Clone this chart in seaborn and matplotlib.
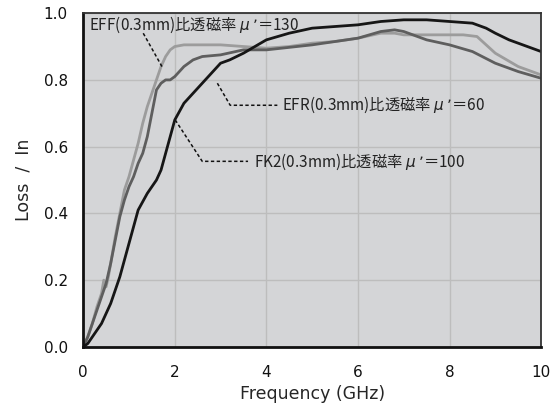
import pandas as pd
import matplotlib
matplotlib.use("Agg")
import matplotlib.pyplot as plt
import seaborn as sns

# EFF (0.3mm), mu' = 130
eff_x = [0, 0.1, 0.2, 0.3, 0.4, 0.45, 0.5, 0.55, 0.6, 0.7, 0.8, 0.9, 1.0, 1.1, 1.2, 1.3,
         1.4, 1.5, 1.6, 1.7, 1.8, 1.9, 2.0, 2.2, 2.5, 3.0, 3.5, 4.0, 4.5, 5.0, 5.5, 6.0,
         6.5, 6.8, 7.0, 7.5, 8.0, 8.3, 8.6, 9.0, 9.5, 10.0]
eff_y = [0, 0.03, 0.07, 0.12, 0.16, 0.20, 0.18, 0.21, 0.25, 0.33, 0.40, 0.47, 0.51, 0.56, 0.61, 0.67,
         0.72, 0.76, 0.80, 0.84, 0.87, 0.89, 0.90, 0.905, 0.905, 0.905, 0.90, 0.895, 0.90, 0.91, 0.915, 0.925,
         0.94, 0.94, 0.935, 0.935, 0.935, 0.935, 0.93, 0.88, 0.84, 0.815]

# EFR (0.3mm), mu' = 60
efr_x = [0, 0.1, 0.2, 0.3, 0.4, 0.5, 0.6, 0.7, 0.8, 0.9, 1.0, 1.1, 1.2, 1.3, 1.4, 1.5,
         1.6, 1.7, 1.8, 1.9, 2.0, 2.2, 2.4, 2.6, 3.0, 3.5, 4.0, 5.0, 6.0, 6.5, 6.8, 7.0,
         7.5, 8.0, 8.5, 9.0, 9.5, 10.0]
efr_y = [0, 0.03, 0.07, 0.11, 0.15, 0.19, 0.25, 0.32, 0.39, 0.44, 0.48, 0.51, 0.55, 0.58, 0.63, 0.70,
         0.77, 0.79, 0.80, 0.80, 0.81, 0.84, 0.86, 0.87, 0.875, 0.89, 0.89, 0.905, 0.925, 0.945, 0.95, 0.945,
         0.92, 0.905, 0.885, 0.85, 0.825, 0.805]

# FK2 (0.3mm), mu' = 100
fk2_x = [0, 0.1, 0.2, 0.4, 0.6, 0.8, 1.0, 1.2, 1.4, 1.5, 1.6, 1.7, 1.8, 1.9, 2.0, 2.2,
         2.4, 2.6, 2.8, 3.0, 3.2, 3.5, 4.0, 4.5, 5.0, 5.5, 6.0, 6.5, 7.0, 7.5, 8.0, 8.5,
         8.8, 9.0, 9.3, 9.6, 10.0]
fk2_y = [0, 0.01, 0.03, 0.07, 0.13, 0.21, 0.31, 0.41, 0.46, 0.48, 0.50, 0.53, 0.58, 0.63, 0.68, 0.73,
         0.76, 0.79, 0.82, 0.85, 0.86, 0.88, 0.92, 0.94, 0.955, 0.96, 0.965, 0.975, 0.98, 0.98, 0.975, 0.97,
         0.955, 0.94, 0.92, 0.905, 0.885]

labels = ["EFF(0.3mm)比透磁率 $\\mu$ ’＝130",
          "EFR(0.3mm)比透磁率 $\\mu$ ’＝60",
          "FK2(0.3mm)比透磁率 $\\mu$ ’＝100"]
# leader lines: curve point -> elbow -> end
leaders = [
    [(1.72, 0.84), (1.29, 0.945)],
    [(2.93, 0.79), (3.21, 0.724), (4.24, 0.724)],
    [(2.01, 0.68), (2.60, 0.556), (3.60, 0.556)],
]
text_pos = [(0.12, 0.965), (4.34, 0.724), (3.73, 0.556)]

sns.set_style("ticks")
plt.rcParams['font.family'] = ['DejaVu Sans', 'Noto Sans CJK JP']

fig, ax = plt.subplots(figsize=(5.51, 4.11), dpi=100)
fig.subplots_adjust(left=0.151, right=0.982, bottom=0.156, top=0.968)
ax.set_facecolor('#d4d5d7')

sns.lineplot(x=eff_x, y=eff_y, ax=ax, color='#9c9c9c', linewidth=2.0)
sns.lineplot(x=efr_x, y=efr_y, ax=ax, color='#5e5e5e', linewidth=2.0)
sns.lineplot(x=fk2_x, y=fk2_y, ax=ax, color='#161616', linewidth=2.0)

for pts in leaders:
    xs = [p[0] for p in pts]
    ys = [p[1] for p in pts]
    ax.plot(xs, ys, color='#111111', linestyle=(0, (2.2, 1.6)), linewidth=1.1)
for (tx, ty), lab in zip(text_pos, labels):
    ax.text(tx, ty, lab, fontsize=11, color='#222222', va='center', ha='left',
            family=['Noto Sans CJK JP', 'DejaVu Sans'])

ax.set_xlim(0, 10)
ax.set_ylim(0, 1.0)
ax.set_xticks([0, 2, 4, 6, 8, 10])
ax.set_yticks([0.0, 0.2, 0.4, 0.6, 0.8, 1.0])
ax.set_yticklabels(['0.0', '0.2', '0.4', '0.6', '0.8', '1.0'])
ax.grid(True, color='#bdbdbd', linewidth=1.0)
ax.set_axisbelow(True)
ax.tick_params(length=0, labelsize=11, colors='#111111')
ax.tick_params(axis='x', pad=13)
ax.tick_params(axis='y', pad=11)
ax.set_xlabel('Frequency (GHz)', fontsize=12.5, labelpad=4)
ax.set_ylabel('Loss  /  In', fontsize=12.5, labelpad=8)

for side in ['left', 'bottom']:
    ax.spines[side].set_linewidth(2.0)
    ax.spines[side].set_color('#111111')
for side in ['top', 'right']:
    ax.spines[side].set_visible(True)
    ax.spines[side].set_linewidth(1.3)
    ax.spines[side].set_color('#333333')

plt.savefig('out.png', dpi=100)
